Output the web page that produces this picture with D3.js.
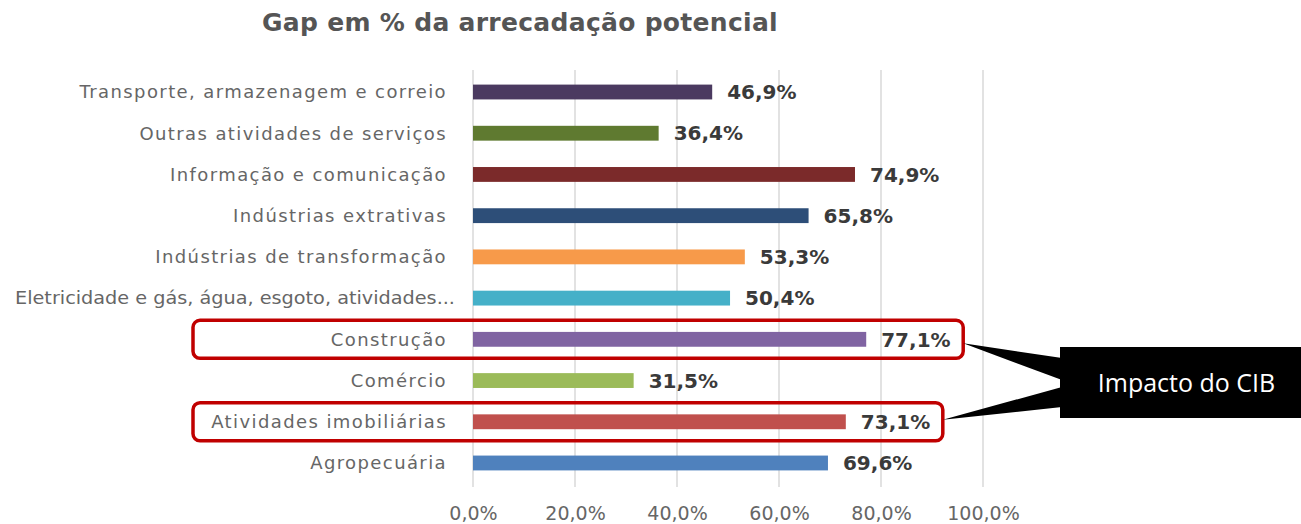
<!DOCTYPE html>
<html>
<head>
<meta charset="utf-8">
<script src="https://cdn.jsdelivr.net/npm/d3@7"></script>
<style>
  body { margin: 0; background: #fff; }
  svg { display: block; font-family: "DejaVu Sans", sans-serif; }
</style>
</head>
<body>
<div id="chart"></div>
<script>
// data
const categories = [
  "Transporte, armazenagem e correio",
  "Outras atividades de serviços",
  "Informação e comunicação",
  "Indústrias extrativas",
  "Indústrias de transformação",
  "Eletricidade e gás, água, esgoto, atividades...",
  "Construção",
  "Comércio",
  "Atividades imobiliárias",
  "Agropecuária"
];
const values = [46.9, 36.4, 74.9, 65.8, 53.3, 50.4, 77.1, 31.5, 73.1, 69.6];
const barColors = ["#4b3a60", "#5f7a30", "#7b2a2a", "#2d4e78", "#f79a4a",
                   "#45b0c8", "#8064a2", "#9bbb59", "#c0504d", "#4f81bd"];
const tickValues = [0, 20, 40, 60, 80, 100];
const highlighted = ["Construção", "Atividades imobiliárias"];
const calloutText = "Impacto do CIB";

const W = 1301, H = 524;
const fmt = v => v.toFixed(1).replace(".", ",") + "%";

const svg = d3.select("#chart").append("svg")
  .attr("width", W).attr("height", H);

const x = d3.scaleLinear().domain([0, 100]).range([473, 983]);
const y = d3.scaleBand().domain(categories)
  .range([71.4, 483.6]).paddingInner(0.64).paddingOuter(0.32);

// title
svg.append("text")
  .attr("x", 520).attr("y", 31)
  .attr("text-anchor", "middle")
  .attr("font-size", 25).attr("font-weight", "bold")
  .attr("letter-spacing", 0.3)
  .attr("fill", "#555")
  .text("Gap em % da arrecadação potencial");

// gridlines
svg.append("g").selectAll("line")
  .data(tickValues).join("line")
  .attr("x1", d => x(d)).attr("x2", d => x(d))
  .attr("y1", 70).attr("y2", 487)
  .attr("stroke", "#d9d9d9").attr("stroke-width", 1.5);

// x axis labels
const xAxis = svg.append("g")
  .attr("transform", "translate(0,503)")
  .call(d3.axisBottom(x).tickValues(tickValues).tickFormat(fmt).tickSize(0));
xAxis.select(".domain").remove();
xAxis.selectAll("text")
  .attr("font-size", 19).attr("fill", "#666")
  .attr("font-family", "DejaVu Sans, sans-serif");

// category labels
const labels = svg.append("g").selectAll("text")
  .data(categories).join("text")
  .attr("x", 447)
  .attr("y", d => y(d) + y.bandwidth() / 2)
  .attr("dy", "0.35em")
  .attr("text-anchor", "end")
  .attr("font-size", 18).attr("letter-spacing", 1.4)
  .attr("fill", "#666")
  .text(d => d);
// long label: squeeze it so it stays on the page (reference runs it from x~12)
labels.each(function () {
  const maxW = 440;
  if (this.getComputedTextLength() > maxW) {
    d3.select(this)
      .attr("letter-spacing", null)
      .attr("x", 455)
      .attr("textLength", maxW)
      .attr("lengthAdjust", "spacingAndGlyphs");
  }
});

// bars
svg.append("g").selectAll("rect")
  .data(values).join("rect")
  .attr("x", x(0))
  .attr("y", (d, i) => y(categories[i]))
  .attr("width", d => x(d) - x(0))
  .attr("height", y.bandwidth())
  .attr("fill", (d, i) => barColors[i]);

// value labels
svg.append("g").selectAll("text")
  .data(values).join("text")
  .attr("x", d => x(d) + 15)
  .attr("y", (d, i) => y(categories[i]) + y.bandwidth() / 2)
  .attr("dy", "0.36em")
  .attr("font-size", 20).attr("font-weight", "bold")
  .attr("fill", "#3a3a3a")
  .text(d => fmt(d));

// red highlight boxes
const boxes = highlighted.map(c => {
  const i = categories.indexOf(c);
  const cy = y(c) + y.bandwidth() / 2;
  return { x0: 193, x1: x(values[i]) + 97, cy: cy };
});
svg.append("g").selectAll("rect")
  .data(boxes).join("rect")
  .attr("x", d => d.x0).attr("y", d => d.cy - 19)
  .attr("width", d => d.x1 - d.x0).attr("height", 38)
  .attr("rx", 7)
  .attr("fill", "none").attr("stroke", "#c00000").attr("stroke-width", 3.5);

// callout
const cx0 = 1060, cy0 = 347, cy1 = 418;
const b0 = boxes[0], b1 = boxes[1];
svg.append("polygon")
  .attr("points", [[b0.x1, b0.cy + 4], [cx0 + 2, cy0 + 11], [cx0 + 2, cy0 + 33]].join(" "))
  .attr("fill", "#000");
svg.append("polygon")
  .attr("points", [[b1.x1, b1.cy - 2], [cx0 + 2, cy1 - 31], [cx0 + 2, cy1 - 11]].join(" "))
  .attr("fill", "#000");
svg.append("rect")
  .attr("x", cx0).attr("y", cy0)
  .attr("width", W - cx0).attr("height", cy1 - cy0)
  .attr("fill", "#000");
svg.append("text")
  .attr("x", (cx0 + W) / 2 + 6).attr("y", (cy0 + cy1) / 2)
  .attr("dy", "0.36em")
  .attr("text-anchor", "middle")
  .attr("font-family", "Open Sans, sans-serif")
  .attr("font-size", 25).attr("fill", "#fff")
  .text(calloutText);
</script>
</body>
</html>
